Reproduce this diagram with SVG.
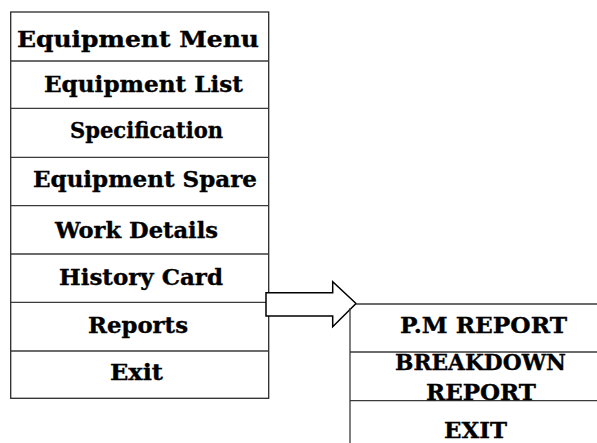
<svg xmlns="http://www.w3.org/2000/svg" width="597" height="443" viewBox="0 0 597 443">
  <style>
    .box { fill: #ffffff; stroke: #2a2a2a; stroke-width: 1.3; }
    .sep { stroke: #3a3a3a; stroke-width: 1.3; }
    .lbl { font-family: "DejaVu Serif", "Liberation Serif", serif; font-weight: bold; font-size: 21.5px; fill: #000000; stroke: #000000; stroke-width: 0.35; }
    .conn { fill: #ffffff; stroke: #000000; stroke-width: 1.5; stroke-linejoin: miter; }
  </style>

  <!-- Main menu -->
  <g id="equipment-menu">
    <rect class="box" x="10.7" y="12" width="258" height="386.3"/>
    <line class="sep" x1="10.7" y1="61" x2="268.7" y2="61"/>
    <line class="sep" x1="10.7" y1="108.3" x2="268.7" y2="108.3"/>
    <line class="sep" x1="10.7" y1="157.3" x2="268.7" y2="157.3"/>
    <line class="sep" x1="10.7" y1="205.7" x2="268.7" y2="205.7"/>
    <line class="sep" x1="10.7" y1="254" x2="268.7" y2="254"/>
    <line class="sep" x1="10.7" y1="302.3" x2="268.7" y2="302.3"/>
    <line class="sep" x1="10.7" y1="351" x2="268.7" y2="351"/>
    <text class="lbl" x="17" y="47" textLength="242" lengthAdjust="spacingAndGlyphs">Equipment Menu</text>
  </g>
  <g id="item-equipment-list"><text class="lbl" x="44" y="92" textLength="199" lengthAdjust="spacingAndGlyphs">Equipment List</text></g>
  <g id="item-specification"><text class="lbl" x="70" y="138" textLength="153" lengthAdjust="spacingAndGlyphs">Specification</text></g>
  <g id="item-equipment-spare"><text class="lbl" x="33" y="187" textLength="224" lengthAdjust="spacingAndGlyphs">Equipment Spare</text></g>
  <g id="item-work-details"><text class="lbl" x="55" y="238" textLength="163" lengthAdjust="spacingAndGlyphs">Work Details</text></g>
  <g id="item-history-card"><text class="lbl" x="59" y="285" textLength="164" lengthAdjust="spacingAndGlyphs">History Card</text></g>
  <g id="item-reports"><text class="lbl" x="88" y="332.5" textLength="100" lengthAdjust="spacingAndGlyphs">Reports</text></g>
  <g id="item-exit"><text class="lbl" x="110" y="380" textLength="53" lengthAdjust="spacingAndGlyphs">Exit</text></g>

  <!-- Block arrow from Reports to the report submenu -->
  <g id="connectors">
    <path class="conn" d="M266,292.7 L332.7,292.7 L332.7,281.7 L356,303.5 L332.7,326.7 L332.7,316 L266,316 Z"/>
  </g>

  <!-- Report submenu -->
  <g id="reports-menu">
    <line class="sep" x1="356" y1="304" x2="597" y2="304"/>
    <line class="sep" x1="350" y1="308" x2="350" y2="443"/>
    <line class="sep" x1="350" y1="352" x2="597" y2="352"/>
    <line class="sep" x1="350" y1="400.7" x2="597" y2="400.7"/>
  </g>
  <g id="sub-pm-report"><text class="lbl" x="400" y="332.7" textLength="167" lengthAdjust="spacingAndGlyphs">P.M REPORT</text></g>
  <g id="sub-breakdown-report">
    <text class="lbl" x="395" y="370" textLength="171" lengthAdjust="spacingAndGlyphs">BREAKDOWN</text>
    <text class="lbl" x="426" y="400" textLength="110" lengthAdjust="spacingAndGlyphs">REPORT</text>
  </g>
  <g id="sub-exit"><text class="lbl" x="444" y="438" textLength="63" lengthAdjust="spacingAndGlyphs">EXIT</text></g>
</svg>
